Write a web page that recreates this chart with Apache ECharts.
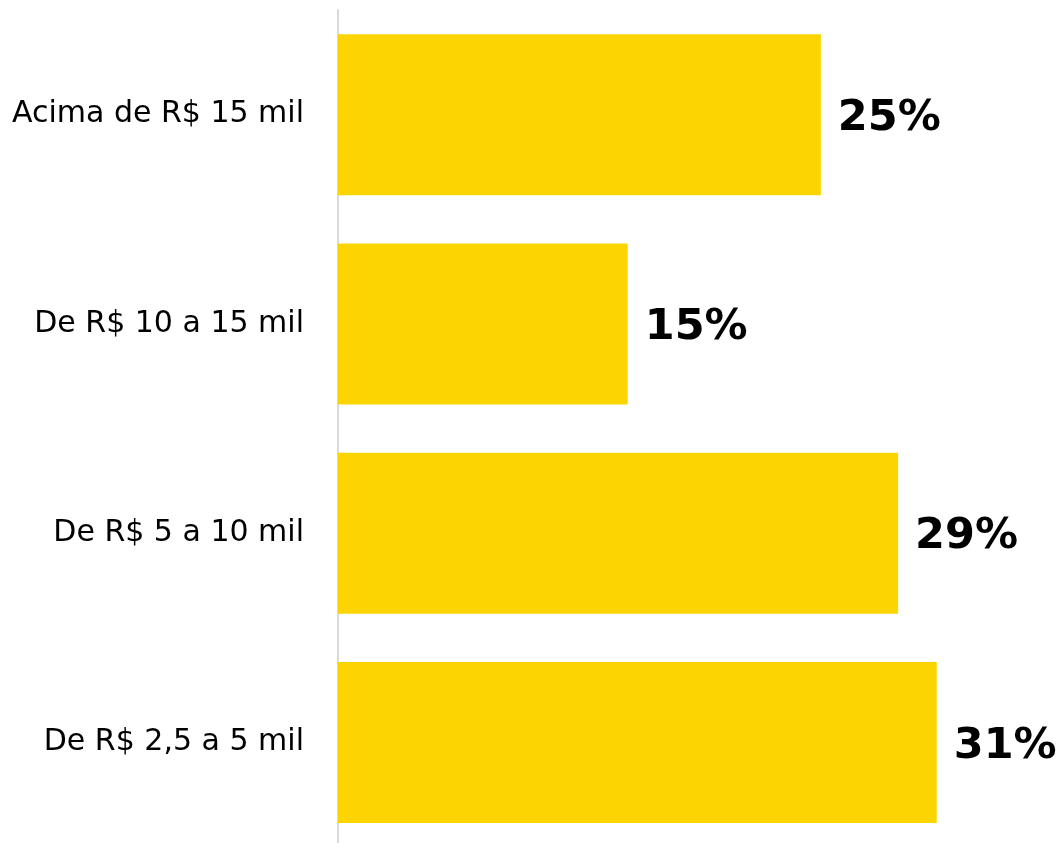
<!DOCTYPE html>
<html>
<head>
<meta charset="utf-8">
<style>
  html, body { margin: 0; padding: 0; background: #ffffff; overflow: hidden; }
  #chart { width: 1062px; height: 850px; }
</style>
<script src="https://cdn.jsdelivr.net/npm/echarts@6/dist/echarts.min.js"></script>
</head>
<body>
<div id="chart"></div>
<script>
// Income brackets, listed bottom to top as the category axis draws them
const categories = ['De R$ 2,5 a 5 mil', 'De R$ 5 a 10 mil', 'De R$ 10 a 15 mil', 'Acima de R$ 15 mil'];
// Share of respondents in each bracket (%)
const shares = [31, 29, 15, 25];

const chart = echarts.init(document.getElementById('chart'), null, { renderer: 'canvas' });

chart.setOption({
  animation: false,
  backgroundColor: '#ffffff',
  // the plot runs slightly past the bottom edge of the page
  grid: { left: 338, top: 10, width: 676, height: 837, containLabel: false },
  xAxis: {
    type: 'value',
    min: 0,
    max: 35,
    show: false
  },
  yAxis: {
    type: 'category',
    data: categories,
    axisLine: { show: true, lineStyle: { color: '#d9d9d9', width: 2 } },
    axisTick: { show: false },
    axisLabel: {
      color: '#000000',
      fontFamily: 'DejaVu Sans',
      fontSize: 30,
      margin: 34
    }
  },
  series: [{
    type: 'bar',
    data: shares,
    barWidth: 161,
    itemStyle: { color: '#FCD500' },
    label: {
      show: true,
      position: 'right',
      distance: 17,
      offset: [0, 4],
      formatter: '{c}%',
      color: '#000000',
      fontFamily: 'DejaVu Sans',
      fontWeight: 'bold',
      fontSize: 43
    }
  }]
});
</script>
</body>
</html>
